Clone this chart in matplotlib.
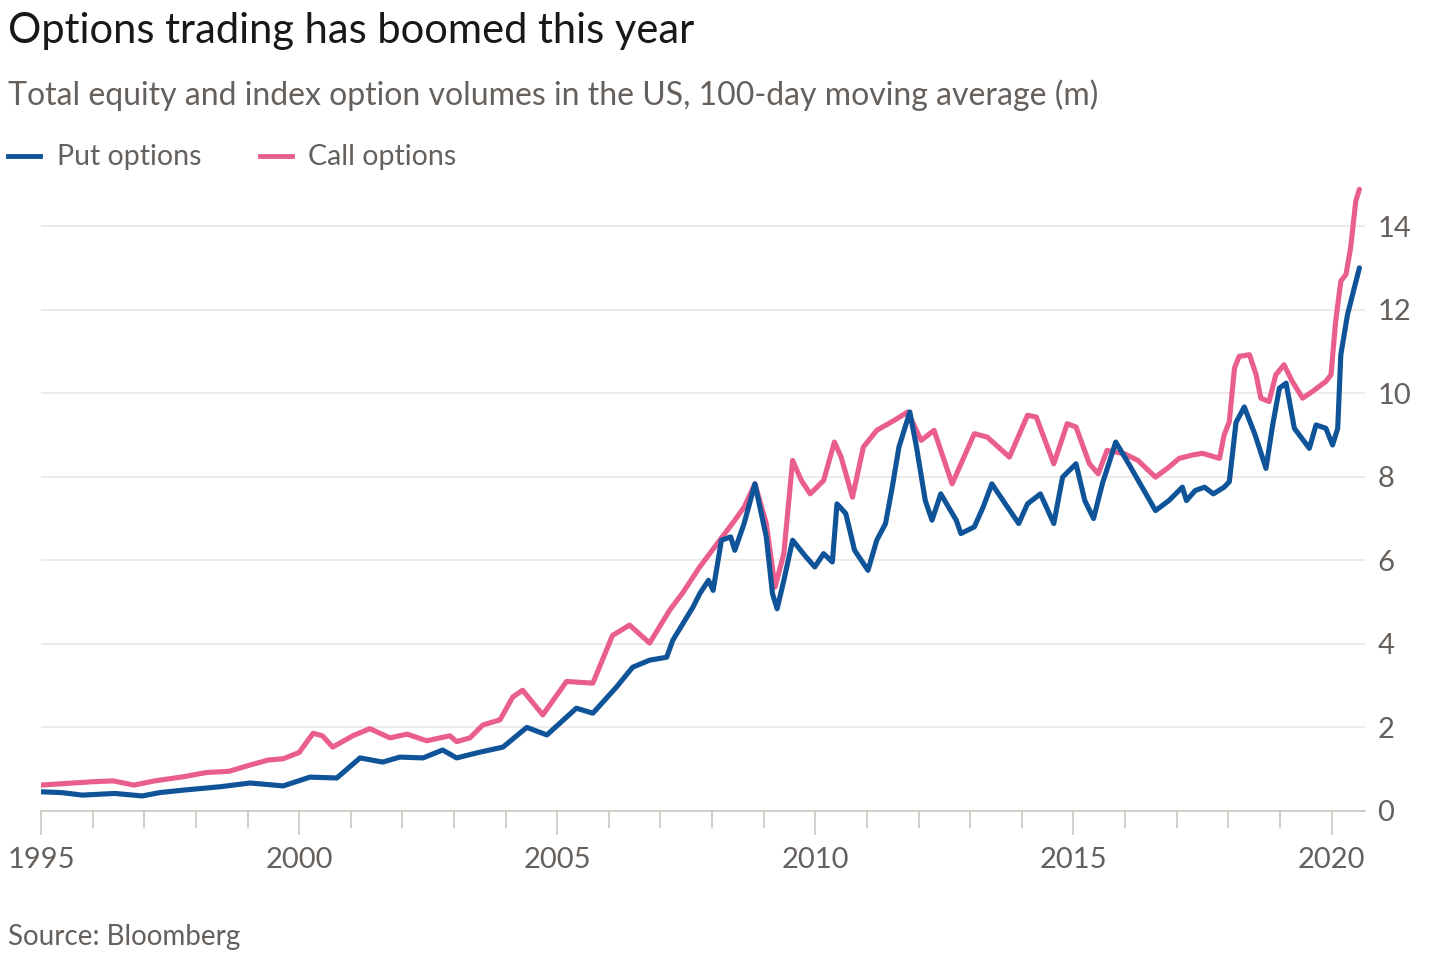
"""Options trading has boomed this year -- put vs call volumes (FT style)."""

import matplotlib

matplotlib.use("Agg")
import matplotlib.pyplot as plt

# 100-day moving average of US equity and index option volumes (m)
call_years = [
    1995.0, 1995.5, 1996.0, 1996.4, 1996.8, 1997.2, 1997.76, 1998.2, 1998.64,
    1999.05, 1999.4, 1999.69, 2000.0, 2000.27, 2000.45, 2000.65, 2001.04, 2001.37,
    2001.76, 2002.09, 2002.47, 2002.92, 2003.05, 2003.31, 2003.56, 2003.89,
    2004.14, 2004.33, 2004.72, 2005.18, 2005.69, 2006.07, 2006.40, 2006.79,
    2007.18, 2007.43, 2007.76, 2008.10, 2008.44, 2008.62, 2008.83, 2009.05,
    2009.22, 2009.39, 2009.56, 2009.73, 2009.90, 2010.16, 2010.37, 2010.50,
    2010.72, 2010.93, 2011.19, 2011.53, 2011.79, 2012.05, 2012.30, 2012.65,
    2013.08, 2013.33, 2013.76, 2014.11, 2014.28, 2014.62, 2014.88, 2015.05,
    2015.31, 2015.48, 2015.65, 2015.99, 2016.25, 2016.59, 2016.85, 2017.05,
    2017.31, 2017.50, 2017.83, 2017.92, 2018.02, 2018.12, 2018.21, 2018.41,
    2018.54, 2018.63, 2018.79, 2018.92, 2019.08, 2019.24, 2019.44, 2019.63,
    2019.89, 2019.99, 2020.08, 2020.18, 2020.28, 2020.37, 2020.47, 2020.54,
]
call_values = [
    0.62, 0.66, 0.70, 0.72, 0.62, 0.72, 0.82, 0.92, 0.95,
    1.10, 1.22, 1.25, 1.40, 1.86, 1.80, 1.53, 1.80, 1.97,
    1.75, 1.84, 1.68, 1.80, 1.66, 1.75, 2.06, 2.18,
    2.73, 2.89, 2.30, 3.10, 3.06, 4.20, 4.45, 4.02,
    4.81, 5.22, 5.84, 6.40, 6.96, 7.27, 7.83, 6.88,
    5.36, 6.16, 8.39, 7.91, 7.59, 7.91, 8.83, 8.47,
    7.51, 8.71, 9.11, 9.35, 9.55, 8.87, 9.11, 7.83,
    9.03, 8.95, 8.47, 9.47, 9.43, 8.31, 9.27, 9.19,
    8.31, 8.07, 8.63, 8.55, 8.39, 7.99, 8.23, 8.44,
    8.52, 8.56, 8.44, 9.00, 9.32, 10.60, 10.88, 10.92,
    10.44, 9.88, 9.80, 10.44, 10.68, 10.28, 9.88, 10.04,
    10.28, 10.44, 11.72, 12.68, 12.84, 13.48, 14.60, 14.88,
]

put_years = [
    1995.0, 1995.4, 1995.8, 1996.43, 1996.96, 1997.3, 1997.76, 1998.47, 1999.05,
    1999.69, 2000.21, 2000.73, 2001.18, 2001.62, 2001.95, 2002.40, 2002.78,
    2003.05, 2003.44, 2003.95, 2004.41, 2004.80, 2005.37, 2005.69, 2006.15,
    2006.46, 2006.79, 2007.12, 2007.24, 2007.63, 2007.76, 2007.93, 2008.02,
    2008.18, 2008.36, 2008.44, 2008.62, 2008.83, 2009.05, 2009.17, 2009.26,
    2009.39, 2009.56, 2009.82, 2009.99, 2010.16, 2010.33, 2010.42, 2010.59,
    2010.76, 2011.02, 2011.19, 2011.36, 2011.49, 2011.62, 2011.83, 2011.96,
    2012.13, 2012.26, 2012.43, 2012.73, 2012.82, 2013.08, 2013.25, 2013.42,
    2013.68, 2013.94, 2014.11, 2014.36, 2014.62, 2014.79, 2015.05, 2015.22,
    2015.39, 2015.56, 2015.82, 2016.07, 2016.33, 2016.59, 2016.85, 2017.11,
    2017.19, 2017.36, 2017.54, 2017.71, 2017.92, 2018.02, 2018.15, 2018.31,
    2018.52, 2018.73, 2018.86, 2018.99, 2019.12, 2019.28, 2019.57, 2019.70,
    2019.89, 2020.02, 2020.12, 2020.18, 2020.31, 2020.54,
]
put_values = [
    0.46, 0.44, 0.38, 0.42, 0.36, 0.44, 0.50, 0.58, 0.67,
    0.60, 0.81, 0.79, 1.27, 1.17, 1.29, 1.27, 1.46,
    1.27, 1.39, 1.53, 2.00, 1.82, 2.46, 2.34, 2.97,
    3.44, 3.61, 3.68, 4.09, 4.88, 5.20, 5.52, 5.28,
    6.48, 6.56, 6.24, 6.88, 7.83, 6.56, 5.20, 4.84,
    5.52, 6.48, 6.08, 5.84, 6.16, 5.96, 7.35, 7.12,
    6.24, 5.76, 6.48, 6.88, 7.75, 8.71, 9.55, 8.71,
    7.43, 6.96, 7.59, 6.96, 6.64, 6.80, 7.27, 7.83,
    7.35, 6.88, 7.35, 7.59, 6.88, 7.99, 8.31, 7.43,
    7.00, 7.83, 8.83, 8.31, 7.75, 7.19, 7.43, 7.75,
    7.43, 7.67, 7.75, 7.59, 7.75, 7.88, 9.30, 9.67,
    9.00, 8.20, 9.24, 10.12, 10.24, 9.16, 8.68, 9.24,
    9.16, 8.76, 9.16, 10.92, 11.88, 13.00,
]

x_labels = [1995, 2000, 2005, 2010, 2015, 2020]
y_ticks = [0, 2, 4, 6, 8, 10, 12, 14]

PUT_COLOR = "#0f5499"
CALL_COLOR = "#ea5e8e"
TEXT_GREY = "#66605c"
GRID = "#ede6e1"
TICK_GREY = "#cdc6c0"

plt.rcParams["font.family"] = ["Lato", "DejaVu Sans"]

fig = plt.figure(figsize=(14.3, 9.55), dpi=100)
ax = fig.add_axes([0.0287, 0.1508, 0.9259, 0.665])

ax.plot(call_years, call_values, color=CALL_COLOR, lw=3.7,
        solid_capstyle="round", solid_joinstyle="round", zorder=3)
ax.plot(put_years, put_values, color=PUT_COLOR, lw=3.7,
        solid_capstyle="round", solid_joinstyle="round", zorder=4)

ax.set_xlim(1995, 2020.65)
ax.set_ylim(0, 15.2)

for side in ("top", "left", "right"):
    ax.spines[side].set_visible(False)
ax.spines["bottom"].set_color(TICK_GREY)
ax.spines["bottom"].set_linewidth(1.2)

ax.set_xticks(x_labels)
ax.set_xticklabels([str(y) for y in x_labels])
ax.set_xticks(range(1995, 2021), minor=True)
ax.tick_params(axis="x", which="major", length=17, width=1.2, color=TICK_GREY,
               labelsize=21, labelcolor=TEXT_GREY, pad=9)
ax.tick_params(axis="x", which="minor", length=12, width=1.2, color=TICK_GREY)

ax.yaxis.tick_right()
ax.set_yticks(y_ticks)
ax.tick_params(axis="y", length=0, labelsize=21, labelcolor=TEXT_GREY, pad=9)
ax.grid(axis="y", color=GRID, lw=1.2)
ax.set_axisbelow(True)

fig.text(0.0056, 0.968, "Options trading has boomed this year", fontsize=30,
         color="#1a1817", va="center", ha="left")
fig.text(0.0056, 0.9, "Total equity and index option volumes in the US, "
         "100-day moving average (m)", fontsize=23, color=TEXT_GREY,
         va="center", ha="left")

# legend drawn by hand, FT style
fig.add_artist(plt.Line2D([0.0056, 0.028], [0.837, 0.837], color=PUT_COLOR,
                          lw=3.5, transform=fig.transFigure))
fig.text(0.04, 0.836, "Put options", fontsize=20.5, color=TEXT_GREY, va="center")
fig.add_artist(plt.Line2D([0.182, 0.204], [0.837, 0.837], color=CALL_COLOR,
                          lw=3.5, transform=fig.transFigure))
fig.text(0.2155, 0.836, "Call options", fontsize=20.5, color=TEXT_GREY, va="center")

fig.text(0.0056, 0.019, "Source: Bloomberg", fontsize=20, color=TEXT_GREY,
         va="center", ha="left")

fig.savefig("out.png", dpi=100)
